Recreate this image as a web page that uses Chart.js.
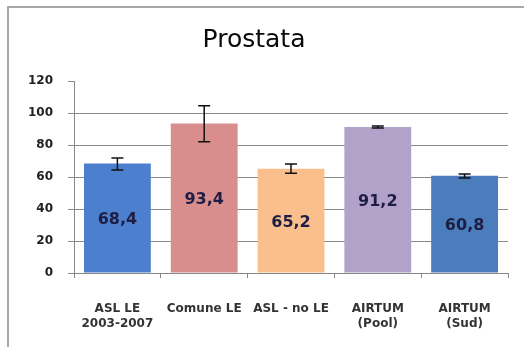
<!DOCTYPE html>
<html>
<head>
<meta charset="utf-8">
<script src="https://cdn.jsdelivr.net/npm/chart.js@4.4.0/dist/chart.umd.min.js"></script>
<style>
  html, body { margin: 0; padding: 0; background: #fff; }
  #wrap { position: relative; width: 524px; height: 347px; }
  #frame { position: absolute; left: 7px; top: 6px; right: 0; bottom: 0; border-left: 2px solid #a8a8a8; border-top: 2px solid #a8a8a8; pointer-events: none; }
</style>
</head>
<body>
<div id="wrap">
  <canvas id="c" width="524" height="347"></canvas>
  <div id="frame"></div>
</div>
<script>
const categories = [["ASL LE", "2003-2007"], "Comune LE", "ASL - no LE", ["AIRTUM", "(Pool)"], ["AIRTUM", "(Sud)"]];
const values = [68.4, 93.4, 65.2, 91.2, 60.8];
const valueLabels = ["68,4", "93,4", "65,2", "91,2", "60,8"];
const errLow = [64.4, 82.1, 62.3, 90.6, 59.4];
const errHigh = [71.9, 104.6, 68.1, 91.8, 61.8];
const barColors = ["#4c80cf", "#d98e8d", "#fbbf8e", "#b2a1c8", "#4b7cbc"];
const yTicks = [0, 20, 40, 60, 80, 100, 120];

const errorBars = {
  id: 'errorBars',
  afterDatasetsDraw(chart) {
    const ctx = chart.ctx;
    const y = chart.scales.y;
    const meta = chart.getDatasetMeta(0);
    ctx.save();
    ctx.strokeStyle = '#111';
    ctx.lineWidth = 1.5;
    meta.data.forEach((bar, i) => {
      const x = bar.x;
      const yl = y.getPixelForValue(errLow[i]);
      const yh = y.getPixelForValue(errHigh[i]);
      ctx.beginPath();
      ctx.moveTo(x, yl); ctx.lineTo(x, yh);
      ctx.moveTo(x - 6, yl); ctx.lineTo(x + 6, yl);
      ctx.moveTo(x - 6, yh); ctx.lineTo(x + 6, yh);
      ctx.stroke();
    });
    ctx.fillStyle = '#1e1e44';
    ctx.font = 'bold 16px "DejaVu Sans"';
    ctx.textAlign = 'center';
    ctx.textBaseline = 'middle';
    meta.data.forEach((bar, i) => {
      const mid = (bar.y + bar.base) / 2;
      ctx.fillText(valueLabels[i], bar.x, mid + 2);
    });
    ctx.restore();
  }
};

new Chart(document.getElementById('c'), {
  type: 'bar',
  data: {
    labels: categories,
    datasets: [{
      data: values,
      backgroundColor: barColors,
      borderWidth: 0,
      categoryPercentage: 1.0,
      barPercentage: 0.77
    }]
  },
  options: {
    responsive: false,
    animation: false,
    layout: { padding: { left: 0, right: 16, top: 0, bottom: 0 } },
    plugins: {
      legend: { display: false },
      tooltip: { enabled: false },
      title: {
        display: true,
        text: 'Prostata',
        color: '#0a0a0a',
        font: { family: '"DejaVu Sans"', size: 25, weight: '500' },
        padding: { top: 25, bottom: 26 }
      }
    },
    scales: {
      x: {
        grid: {
          offset: true,
          drawOnChartArea: false,
          drawTicks: true,
          tickLength: 5,
          color: '#888'
        },
        border: { color: '#888', width: 1 },
        ticks: {
          color: '#333',
          font: { family: '"DejaVu Sans"', size: 12, weight: 'bold', lineHeight: 1.25 },
          padding: 23,
          maxRotation: 0,
          autoSkip: false
        },
        afterFit(scale) { scale.height = 74; }
      },
      y: {
        min: 0,
        max: 120,
        afterBuildTicks(scale) { scale.ticks = yTicks.map(v => ({ value: v })); },
        grid: {
          color: (c) => (c.tick && c.tick.value === 120) ? 'rgba(0,0,0,0)' : '#8a8a8a',
          tickLength: 6,
          tickColor: '#888'
        },
        border: { color: '#888', width: 1 },
        ticks: {
          color: '#222',
          font: { family: '"DejaVu Sans"', size: 12, weight: 'bold' },
          padding: 15
        },
        afterFit(scale) { scale.width = 74; }
      }
    }
  },
  plugins: [errorBars]
});
</script>
</body>
</html>
